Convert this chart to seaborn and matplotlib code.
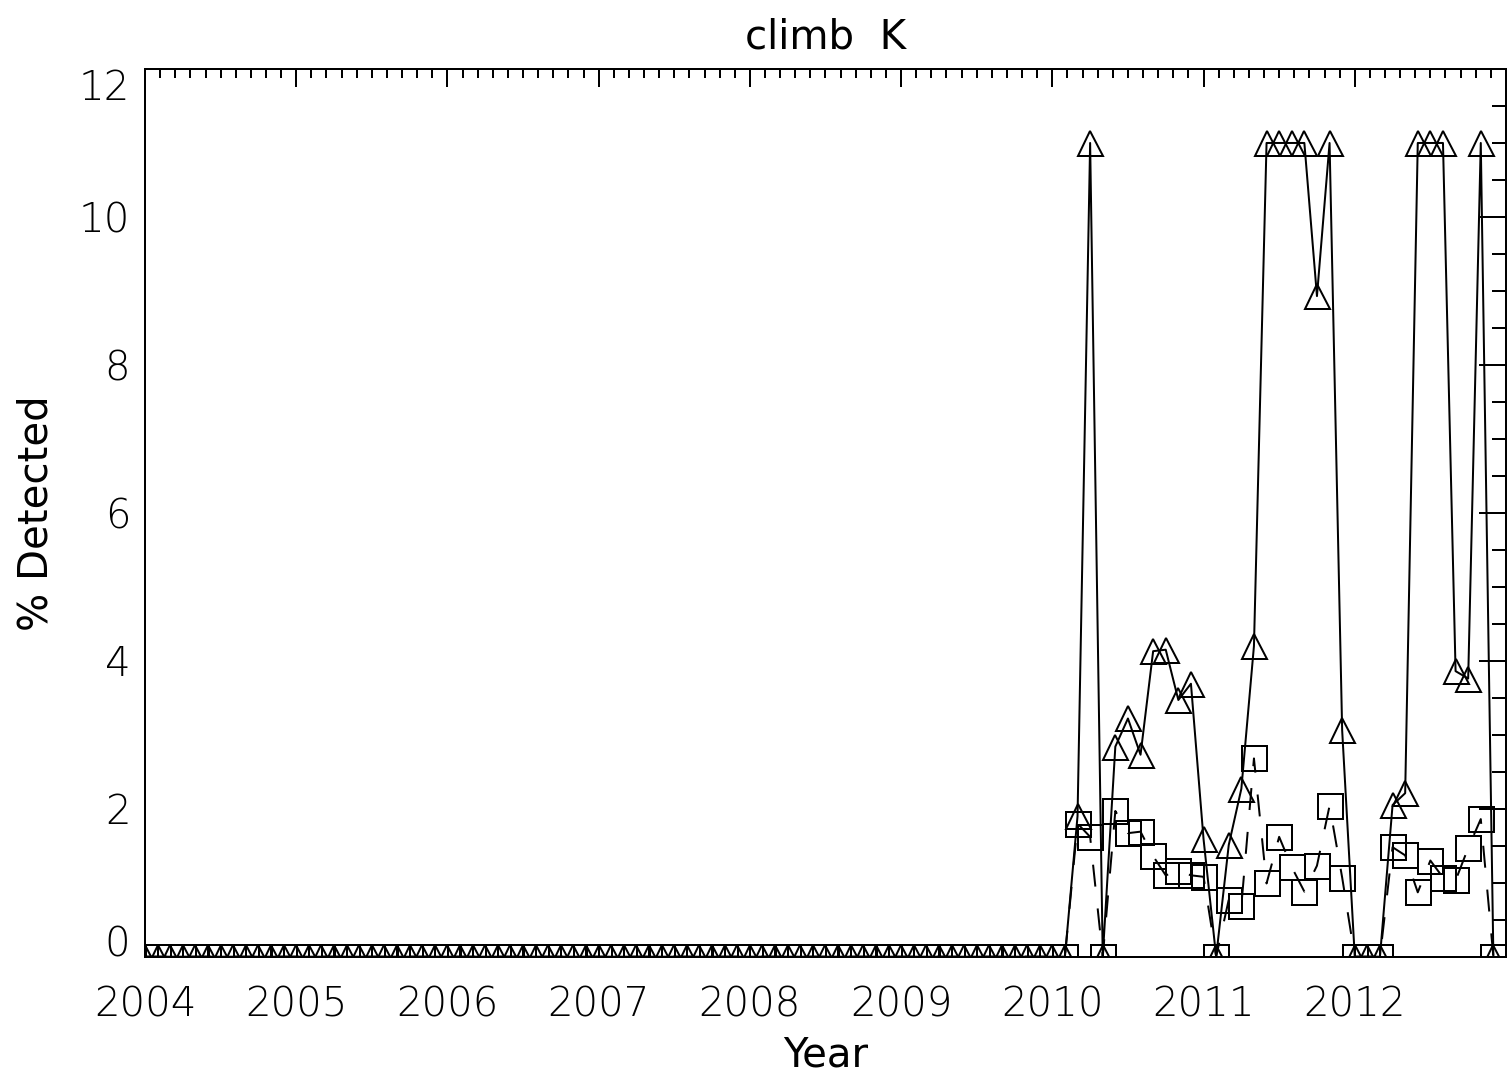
import matplotlib
matplotlib.use("Agg")
import matplotlib.pyplot as plt
from matplotlib.ticker import MultipleLocator, FixedLocator
import numpy as np
import pandas as pd
import seaborn as sns

# ---- monthly % detected, climb K ----------------------------------------
years = [2004, 2005, 2006, 2007, 2008, 2009, 2010, 2011, 2012]

# triangle series (solid line), Jan..Dec per year
tri_2004 = [0, 0, 0, 0, 0, 0, 0, 0, 0, 0, 0, 0]
tri_2005 = [0, 0, 0, 0, 0, 0, 0, 0, 0, 0, 0, 0]
tri_2006 = [0, 0, 0, 0, 0, 0, 0, 0, 0, 0, 0, 0]
tri_2007 = [0, 0, 0, 0, 0, 0, 0, 0, 0, 0, 0, 0]
tri_2008 = [0, 0, 0, 0, 0, 0, 0, 0, 0, 0, 0, 0]
tri_2009 = [0, 0, 0, 0, 0, 0, 0, 0, 0, 0, 0, 0]
tri_2010 = [0, 0, 1.90, 11.0, 0, 2.84, 3.22, 2.73, 4.13, 4.15, 3.47, 3.69]
tri_2011 = [1.59, 0, 1.51, 2.27, 4.20, 11.0, 11.0, 11.0, 11.0, 8.93, 11.0, 3.06]
tri_2012 = [0, 0, 0, 2.05, 2.21, 11.0, 11.0, 11.0, 3.86, 3.76, 11.0, 0]

# square series (dashed line), Jan..Dec per year
sq_2004 = [0, 0, 0, 0, 0, 0, 0, 0, 0, 0, 0, 0]
sq_2005 = [0, 0, 0, 0, 0, 0, 0, 0, 0, 0, 0, 0]
sq_2006 = [0, 0, 0, 0, 0, 0, 0, 0, 0, 0, 0, 0]
sq_2007 = [0, 0, 0, 0, 0, 0, 0, 0, 0, 0, 0, 0]
sq_2008 = [0, 0, 0, 0, 0, 0, 0, 0, 0, 0, 0, 0]
sq_2009 = [0, 0, 0, 0, 0, 0, 0, 0, 0, 0, 0, 0]
sq_2010 = [0, 0, 1.80, 1.62, 0, 1.97, 1.67, 1.69, 1.36, 1.10, 1.16, 1.10]
sq_2011 = [1.08, 0, 0.77, 0.69, 2.68, 0.99, 1.62, 1.21, 0.88, 1.23, 2.04, 1.07]
sq_2012 = [0, 0, 0, 1.48, 1.37, 0.87, 1.30, 1.07, 1.03, 1.47, 1.86, 0]

tri_by_year = [tri_2004, tri_2005, tri_2006, tri_2007, tri_2008,
               tri_2009, tri_2010, tri_2011, tri_2012]
sq_by_year = [sq_2004, sq_2005, sq_2006, sq_2007, sq_2008,
              sq_2009, sq_2010, sq_2011, sq_2012]

x_ticks = [2004, 2005, 2006, 2007, 2008, 2009, 2010, 2011, 2012]
y_ticks = [0, 2, 4, 6, 8, 10, 12]

# ---- long-form table -----------------------------------------------------
rows = []
for yr, tv, sv in zip(years, tri_by_year, sq_by_year):
    for m in range(12):
        t = yr + m / 12.0
        rows.append({"Year": t, "pct": tv[m], "series": "tri"})
        rows.append({"Year": t, "pct": sv[m], "series": "sq"})
df = pd.DataFrame(rows)

# ---- style -----------------------------------------------------------------
sns.set_style("white")
plt.rcParams["font.family"] = ["DejaVu Sans"]
plt.rcParams["font.weight"] = "light"
for key in ("text.color", "axes.labelcolor", "xtick.color", "ytick.color"):
    plt.rcParams[key] = "black"
FS = 29
LW = 1.44

fig = plt.figure(figsize=(15.09, 10.73), dpi=100)
ax = fig.add_axes([0.0961, 0.1084, 0.998 - 0.0961, 0.9357 - 0.1084])

sns.lineplot(
    data=df, x="Year", y="pct", style="series", style_order=["tri", "sq"],
    markers={"tri": "^", "sq": "s"}, dashes={"tri": "", "sq": (11, 11)},
    color="black", linewidth=LW, markersize=18,
    markerfacecolor="none", markeredgecolor="black", markeredgewidth=LW,
    estimator=None, sort=False, errorbar=None, legend=False, ax=ax,
)

ax.set_xlim(2004, 2013)
ax.set_ylim(0, 12)
ax.xaxis.set_major_locator(FixedLocator(x_ticks))
ax.xaxis.set_minor_locator(MultipleLocator(0.1))
ax.yaxis.set_major_locator(FixedLocator(y_ticks))
ax.yaxis.set_minor_locator(MultipleLocator(0.5))
ax.set_xticklabels([str(v) for v in x_ticks])
ylabels = ax.set_yticklabels([str(v) for v in y_ticks])

ax.tick_params(axis="both", which="both", direction="in", top=True, right=True,
               width=LW, color="black", labelsize=FS, labelcolor="black")
ax.tick_params(axis="x", which="major", length=13, pad=21)
ax.tick_params(axis="x", which="minor", length=6.5)
ax.tick_params(axis="y", which="major", length=19.4, pad=10.6)
ax.tick_params(axis="y", which="minor", length=10)
for sp in ax.spines.values():
    sp.set_linewidth(LW)
    sp.set_color("black")

# keep the end labels of the y axis inside the frame
ylabels[0].set_verticalalignment("baseline")
ylabels[-1].set_verticalalignment("top")

ax.set_xlabel("Year", fontsize=FS, labelpad=7.4)
ax.set_ylabel("% Detected", fontsize=FS, labelpad=16)
ax.set_title("climb  K", fontsize=FS, pad=15)

fig.savefig("out.png", dpi=100)
